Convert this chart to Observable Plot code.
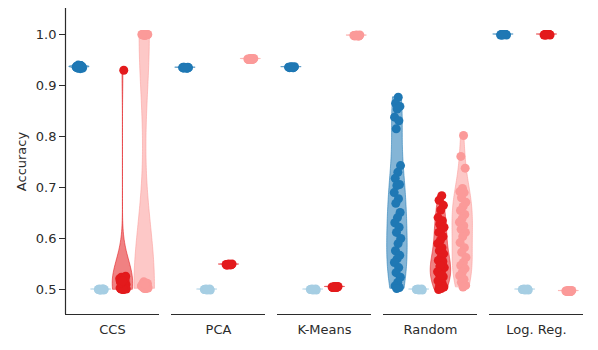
<!DOCTYPE html>
<html><head><meta charset="utf-8">
<script src="https://cdn.jsdelivr.net/npm/d3@7"></script>
<script src="https://cdn.jsdelivr.net/npm/@observablehq/plot@0.6"></script>
<style>body{margin:0;background:#fff}</style>
</head><body><div id="chart"></div>
<script>
// ---- data ----
const methods = ["CCS", "PCA", "K-Means", "Random", "Log. Reg."];
const hues = ["Series 1", "Series 2", "Series 3", "Series 4"];
const hueColors = ["#1f78b4", "#a6cee3", "#e31a1c", "#fb9a99"];
const yTicks = [0.5, 0.6, 0.7, 0.8, 0.9, 1.0];
const yLabel = "Accuracy";

const ccs1 = [0.933,0.935,0.936,0.937,0.938,0.939,0.940,0.934,0.936,0.937,0.935,0.938,0.936,0.939,0.934,0.937,0.936,0.935,0.938,0.937];
const ccs2 = [0.500,0.501,0.499,0.500,0.500,0.501,0.499,0.500,0.500,0.500,0.501,0.499];
const ccs3 = [0.930,0.501,0.502,0.500,0.503,0.505,0.508,0.510,0.512,0.515,0.518,0.520,0.521,0.522,0.524,0.526,0.519,0.516,0.507,0.504,0.501,0.500,0.513,0.523,0.517];
const ccs4 = [1.000,0.999,1.000,0.998,1.000,0.999,1.000,1.000,0.999,1.000,
              0.503,0.505,0.507,0.502,0.510,0.512,0.504,0.506,0.508,0.515,0.503,0.509,0.511,0.505,0.502,0.507,0.513,0.504,0.506,0.510];
const pca1 = [0.935,0.934,0.936,0.935,0.935,0.934,0.936,0.935,0.935,0.936,0.934,0.935];
const pca2 = [0.500,0.500,0.501,0.499,0.500,0.500,0.501,0.499,0.500,0.500,0.500,0.500];
const pca3 = [0.549,0.548,0.549,0.550,0.549,0.548,0.549,0.550,0.549,0.548,0.549,0.549];
const pca4 = [0.952,0.951,0.952,0.953,0.952,0.951,0.952,0.953,0.952,0.951,0.952,0.952];
const km1 = [0.936,0.935,0.936,0.937,0.936,0.935,0.936,0.937,0.936,0.936,0.935,0.936];
const km2 = [0.500,0.500,0.501,0.499,0.500,0.500,0.501,0.499,0.500,0.500,0.500,0.500];
const km3 = [0.505,0.504,0.505,0.506,0.505,0.504,0.505,0.506,0.505,0.504,0.505,0.505];
const km4 = [0.998,0.997,0.998,0.999,0.998,0.997,0.998,0.999,0.998,0.998,0.997,0.998];
const rnd1 = [0.877,0.865,0.859,0.854,0.838,0.831,0.815,0.743,0.730,0.718,0.706,0.704,0.690,0.678,0.669,0.651,0.641,0.631,0.622,0.612,0.600,0.590,0.576,0.567,0.560,0.553,0.543,0.533,0.524,0.514,0.507,0.504,0.502];
const rnd2 = [0.500,0.500,0.501,0.499,0.500,0.500,0.501,0.499,0.500,0.500,0.500,0.500];
const rnd3 = [0.684,0.675,0.665,0.656,0.641,0.635,0.628,0.622,0.617,0.612,0.604,0.596,0.590,0.582,0.576,0.570,0.563,0.557,0.550,0.545,0.543,0.537,0.531,0.525,0.520,0.517,0.512,0.508,0.505,0.502,0.500,0.555,0.547,0.535,0.528];
const rnd4 = [0.802,0.761,0.738,0.698,0.692,0.690,0.680,0.671,0.663,0.655,0.647,0.639,0.632,0.625,0.618,0.612,0.604,0.592,0.582,0.573,0.563,0.553,0.547,0.541,0.534,0.527,0.520,0.514,0.508,0.505];
const lr1 = [1.000,0.999,1.000,1.000,0.999,1.000,1.000,0.999,1.000,1.000,1.000,0.999];
const lr2 = [0.500,0.500,0.501,0.499,0.500,0.500,0.501,0.499,0.500,0.500,0.500,0.500];
const lr3 = [1.000,0.999,1.000,1.000,0.999,1.000,1.000,0.999,1.000,1.000,1.000,0.999];
const lr4 = [0.497,0.496,0.497,0.498,0.497,0.496,0.497,0.498,0.497,0.497,0.496,0.497];

const groupValues = [
  [ccs1, ccs2, ccs3, ccs4],
  [pca1, pca2, pca3, pca4],
  [km1, km2, km3, km4],
  [rnd1, rnd2, rnd3, rnd4],
  [lr1, lr2, lr3, lr4]
];

// ---- derived: KDE violins (Scott bandwidth, cut = 0, scaled to equal width) ----
const HALF = 0.47, JIT = 0.16;
function kde(values) {
  const n = values.length;
  const mean = d3.mean(values);
  const sd = Math.sqrt(d3.sum(values, v => (v - mean) ** 2) / (n - 1));
  let bw = sd * Math.pow(n, -0.2);
  if (!(bw > 0)) bw = 0.0005;
  let lo = d3.min(values), hi = d3.max(values);
  if (hi - lo < 0.002) { const c = (lo + hi) / 2; lo = c - 0.001; hi = c + 0.001; }
  const grid = d3.range(81).map(i => lo + (hi - lo) * i / 80);
  const dens = grid.map(y => d3.sum(values, v => Math.exp(-0.5 * ((y - v) / bw) ** 2)));
  const m = d3.max(dens);
  return grid.map((y, i) => ({y, w: dens[i] / m * HALF}));
}

const violins = [];
const points = [];
methods.forEach((method, mi) => {
  hues.forEach((hue, hi) => {
    const vals = groupValues[mi][hi];
    const key = method + "|" + hue;
    kde(vals).forEach(({y, w}) => violins.push({method, hue, key, y, x1: hi - w, x2: hi + w}));
    vals.forEach((v, i) => {
      const j = (((i + 1) * 0.6180339887) % 1) * 2 - 1;
      points.push({method, hue, v, x: hi + j * JIT});
    });
  });
});

const ink = "#2b2b2b";
const chart = Plot.plot({
  width: 598, height: 350,
  marginLeft: 63, marginRight: 13, marginTop: 8, marginBottom: 36,
  style: {fontFamily: "DejaVu Sans", fontSize: "13px", color: ink, background: "white"},
  fx: {domain: methods, paddingInner: 0.112, paddingOuter: 0, label: null, tickSize: 0, tickPadding: 10, axis: "bottom"},
  x: {domain: [-0.64, 3.68], axis: null},
  y: {domain: [0.451, 1.051], ticks: yTicks, tickFormat: d => d.toFixed(1), tickSize: 6, tickPadding: 3, label: null},
  color: {domain: hues, range: hueColors},
  marks: [
    Plot.areaX(violins, {fx: "method", y: "y", x1: "x1", x2: "x2", z: "key", fill: "hue", fillOpacity: 0.55,
      stroke: "hue", strokeOpacity: 0.7, strokeWidth: 0.8}),
    Plot.dot(points, {fx: "method", x: "x", y: "v", r: 4.5, fill: "hue"}),
    Plot.ruleY([0.451], {stroke: ink, strokeWidth: 1.2}),
    Plot.ruleX([-0.64], {fx: ["CCS"], stroke: ink, strokeWidth: 1.2}),
    Plot.text([yLabel], {fx: ["CCS"], text: d => d, frameAnchor: "left", dx: -43.5, rotate: -90,
      textAnchor: "middle", lineAnchor: "middle", fontSize: 13, fill: ink})
  ]
});
document.getElementById("chart").appendChild(chart);
</script>
</body></html>
